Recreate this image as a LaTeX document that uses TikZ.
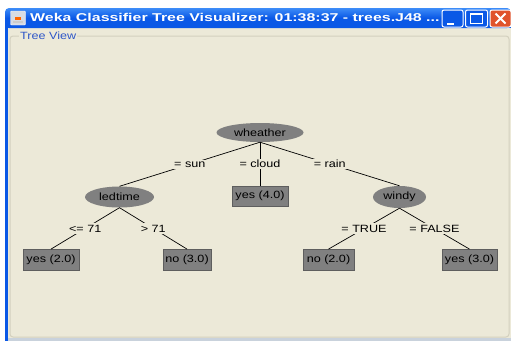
\documentclass[tikz,border=0pt]{standalone}
\usepackage{fontspec}
\setmainfont{Liberation Sans}[FakeStretch=1.2]
\usetikzlibrary{shapes.geometric}
\definecolor{panelbg}{HTML}{ECE9D8}
\definecolor{nodegray}{HTML}{808080}
\definecolor{boxedge}{HTML}{5E5E5E}
\definecolor{xpblue}{HTML}{0A58E6}
\definecolor{xplight}{HTML}{3D8CF8}
\definecolor{xpred}{HTML}{E0532C}
\definecolor{framegray}{HTML}{D3D0BE}
\definecolor{titleblue}{HTML}{2F57C8}
\definecolor{footgray}{HTML}{C9D2DC}
\definecolor{icongray}{HTML}{D7DCE4}
\tikzset{
  treeellipse/.style={ellipse, fill=nodegray, draw=none, inner sep=0pt, font=\fontsize{10.5}{12}\selectfont},
  leafbox/.style={rectangle, fill=nodegray, draw=boxedge, line width=0.8pt, inner sep=0pt, font=\fontsize{10.5}{12}\selectfont},
  edgelabel/.style={fill=panelbg, inner sep=1.5pt, font=\fontsize{10.5}{12}\selectfont},
  branch/.style={draw=black, line width=0.7pt},
  winbutton/.style={rounded corners=2pt, draw=white, line width=1pt},
}
\begin{document}
\begin{tikzpicture}[x=1pt,y=-1pt]
\useasboundingbox (0,0) rectangle (511,341);
\fill[white] (0,0) rectangle (511,341);

% window body
\fill[panelbg] (5,28) rectangle (511,341);
\fill[xpblue] (5,28) rectangle (8,341);
\fill[footgray] (8,338) rectangle (511,341);

% title bar
\shade[top color=xplight, bottom color=xpblue, middle color=xpblue, rounded corners=4pt]
  (5,28) -- (5,8) -- (511,8) -- (511,28) -- cycle;
\fill[xpblue] (5,20) rectangle (511,28);

% application icon
\node[draw=white, fill=icongray, minimum width=15pt, minimum height=14pt, inner sep=0pt, rounded corners=1pt] (appicon) at (18,18) {};
\fill[orange!80!red] (15,17) rectangle (21,19.5);
\fill[white!60!gray] (13,21) rectangle (23,22.5);

\node[anchor=base west, inner sep=0pt, text=white, font=\fontsize{10.5}{12}\selectfont\bfseries] (title) at (30,21)
  {\scalebox{1.265}[1.08]{Weka Classifier Tree Visualizer: 01:38:37 - trees.J48 ...}};

% window buttons
\node[winbutton, fill=xpblue, minimum width=21pt, minimum height=17pt, inner sep=0pt] (minbtn) at (452.5,18.5) {};
\fill[white] (447,22.5) rectangle (454,24.5);
\node[winbutton, fill=xpblue, minimum width=22pt, minimum height=17pt, inner sep=0pt] (maxbtn) at (476.5,18.5) {};
\draw[white, line width=1pt] (470.5,13.5) rectangle (482.5,23.5);
\draw[white, line width=2pt] (470.5,14) -- (482.5,14);
\node[winbutton, fill=xpred, minimum width=21pt, minimum height=17pt, inner sep=0pt] (closebtn) at (500.5,18.5) {};
\draw[white, line width=2pt] (495.5,13.5) -- (505.5,23.5) (505.5,13.5) -- (495.5,23.5);

% titled panel frame
\draw[framegray, line width=1pt, rounded corners=3pt] (10,36) rectangle (509,337);
\node[fill=panelbg, inner sep=1pt, text=titleblue, anchor=west, font=\fontsize{10.5}{12}\selectfont] (paneltitle) at (19,35.5) {Tree View};

% decision tree
\node[treeellipse, minimum width=87pt, minimum height=19pt] (weather) at (260,132.5) {wheather};
\node[treeellipse, minimum width=69pt, minimum height=21pt] (ledtime) at (119.5,197) {ledtime};
\node[treeellipse, minimum width=53pt, minimum height=22pt] (windy) at (399.5,197) {windy};

\node[leafbox, minimum width=56pt, minimum height=20pt] (cloudleaf) at (260,196) {yes (4.0)};
\node[leafbox, minimum width=56pt, minimum height=21pt] (lowleaf) at (51,260) {yes (2.0)};
\node[leafbox, minimum width=48pt, minimum height=21pt] (highleaf) at (187,260) {no (3.0)};
\node[leafbox, minimum width=51pt, minimum height=21pt] (trueleaf) at (328.5,260) {no (2.0)};
\node[leafbox, minimum width=55pt, minimum height=21pt] (falseleaf) at (469.5,260) {yes (3.0)};

\draw[branch] (weather.south) -- (ledtime.north) node[midway, edgelabel] {= sun};
\draw[branch] (weather.south) -- (cloudleaf.north) node[midway, edgelabel] {= cloud};
\draw[branch] (weather.south) -- (windy.north) node[midway, edgelabel] {= rain};
\draw[branch] (ledtime.south) -- (lowleaf.north) node[midway, edgelabel] {<= 71};
\draw[branch] (ledtime.south) -- (highleaf.north) node[midway, edgelabel] {> 71};
\draw[branch] (windy.south) -- (trueleaf.north) node[midway, edgelabel] {= TRUE};
\draw[branch] (windy.south) -- (falseleaf.north) node[midway, edgelabel] {= FALSE};
\end{tikzpicture}
\end{document}
